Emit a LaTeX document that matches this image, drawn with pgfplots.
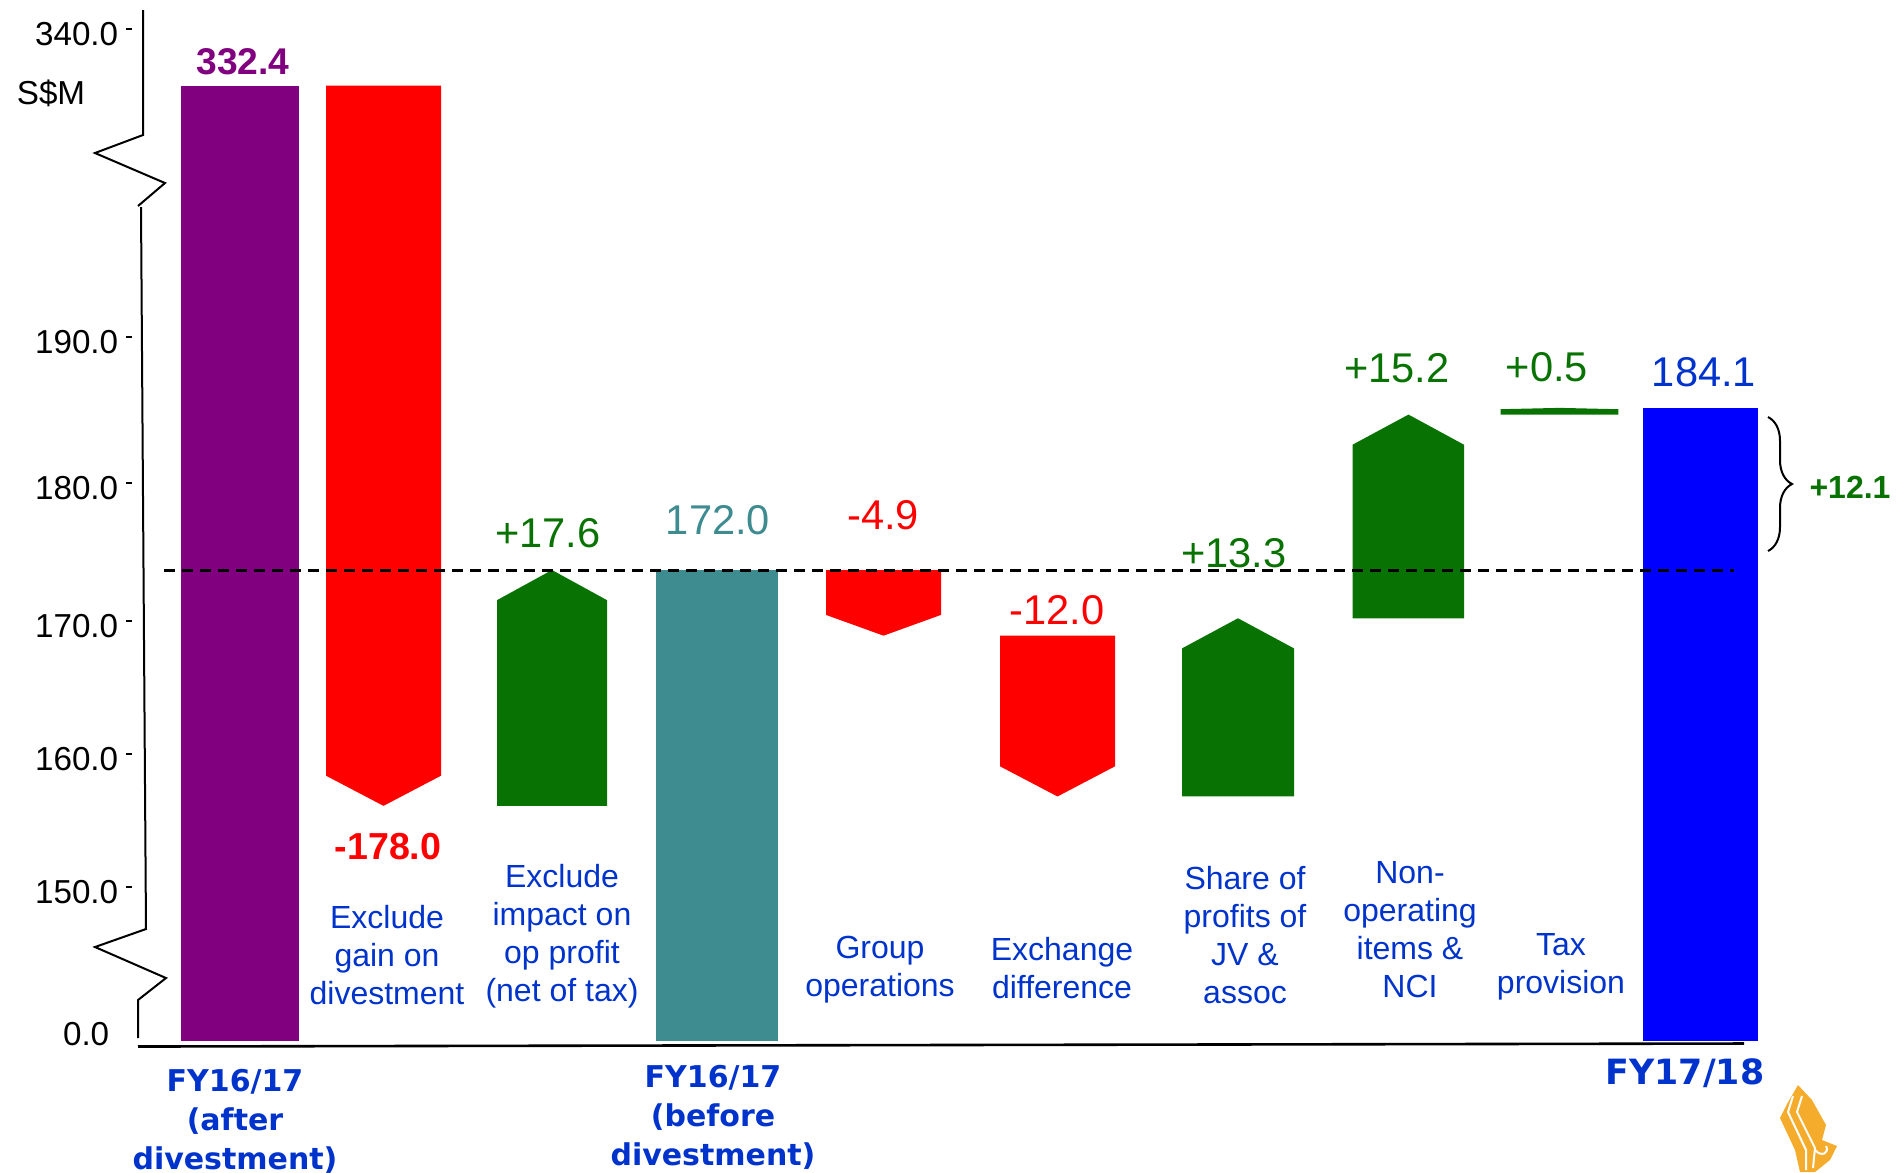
\documentclass[border=0pt]{standalone}
\usepackage{fontspec}
\setmainfont{Liberation Sans}
\newfontfamily\dejavu{DejaVu Sans}
\usepackage{pgfplots}
\pgfplotsset{compat=1.18}
\usetikzlibrary{decorations.pathreplacing}
\definecolor{purpleC}{RGB}{128,0,128}
\definecolor{redC}{RGB}{255,0,0}
\definecolor{greenC}{RGB}{8,115,2}
\definecolor{tealC}{RGB}{62,139,144}
\definecolor{blueBar}{RGB}{0,0,255}
\definecolor{labelBlue}{RGB}{0,51,204}
\definecolor{goldC}{RGB}{245,172,45}
\newcommand{\tl}[1]{#1\hspace{2pt}\rule[3.95pt]{1.5pt}{0.4pt}}
\newcommand{\val}{\fontsize{10.4}{12}\selectfont}
\newcommand{\cat}{\fontsize{8}{9.5}\selectfont}
\begin{document}
\begin{tikzpicture}
\begin{axis}[
  at={(0pt,0pt)}, anchor=north west,
  scale only axis, width=474.25pt, height=293pt,
  xmin=0, xmax=1897, ymin=-173.95, ymax=344.11,
  y coord trafo/.code={\pgfmathparse{(#1)<=145 ? 131+0.7531*(#1) : ((#1)<=190 ? 602+13.4*((#1)-172) : ((#1)<=330 ? 843.2+1.6129*((#1)-190) : 1069+7.3*((#1)-330)))}},
  axis line style={draw=none},
  tick style={draw=none},
  major tick length=0pt,
  xtick=\empty,
  ytick={0,148.27,158.19,168.12,178.42,189.31,340},
  yticklabels={{\raisebox{5.5pt}{0.0}\rule{5.75pt}{0pt}},{\tl{150.0}},{\tl{160.0}},{\tl{170.0}},{\tl{180.0}},{\tl{190.0}},{\tl{340.0}}},
  yticklabel style={anchor=east, inner sep=0pt, xshift=33.25pt, yshift=-1pt, font=\fontsize{8.3}{10}\selectfont},
  clip=false,
]
% FY16/17 after divestment
\addplot[fill=purpleC, draw=none] coordinates {(181,0) (299,0) (299,332.4) (181,332.4)};
% Exclude gain on divestment -178.0
\addplot[fill=redC, draw=none] coordinates {(326,332.4) (441,332.4) (441,156.65) (383.5,154.4) (326,156.65)};
% Exclude impact on op profit +17.6
\addplot[fill=greenC, draw=none] coordinates {(497,154.4) (607,154.4) (607,169.75) (552,172) (497,169.75)};
% FY16/17 before divestment
\addplot[fill=tealC, draw=none] coordinates {(656,0) (778,0) (778,172) (656,172)};
% Group operations -4.9
\addplot[fill=redC, draw=none] coordinates {(826,172) (941,172) (941,168.65) (883.5,167.1) (826,168.65)};
% Exchange difference -12.0
\addplot[fill=redC, draw=none] coordinates {(1000,167.1) (1115,167.1) (1115,157.35) (1057.5,155.1) (1000,157.35)};
% Share of profits of JV & assoc +13.3
\addplot[fill=greenC, draw=none] coordinates {(1182,155.1) (1294,155.1) (1294,166.15) (1238,168.4) (1182,166.15)};
% Non-operating items & NCI +15.2
\addplot[fill=greenC, draw=none] coordinates {(1352.5,168.4) (1464,168.4) (1464,181.35) (1408.5,183.6) (1352.5,181.35)};
% Tax provision +0.5
\addplot[fill=greenC, draw=none] coordinates {(1500.7,183.6) (1618.4,183.6) (1618.4,184.0) (1559.5,184.1) (1500.7,184.0)};
% FY17/18
\addplot[fill=blueBar, draw=none] coordinates {(1643,0) (1758,0) (1758,184.1) (1643,184.1)};
% reference line at 172.0
\addplot[black, line width=0.75pt, dash pattern=on 2.8pt off 1.7pt] coordinates {(164,172) (1734,172)};
\end{axis}
\begin{scope}[x=0.25pt, y=-0.25pt]
% broken y axis and x axis
\draw[line width=0.5pt] (143,10) -- (143,135) -- (95,153) -- (165,183) -- (138,206);
\draw[line width=0.5pt] (141,207) -- (146,929) -- (95,947) -- (166,978) -- (138,1000) -- (138,1038);
\draw[line width=0.65pt] (138,1046.5) -- (1744,1043.5);
% brace
\draw[line width=0.5pt, decorate, decoration={brace, amplitude=6pt}] (1768,417) -- (1768,551);
% value labels
\node[text=purpleC, font=\fontsize{9.3}{11}\selectfont\bfseries] at (243,62) {332.4};
\node[text=redC, font=\fontsize{9.4}{11}\selectfont\bfseries] at (388,847) {-178.0};
\node[text=greenC, font=\val] at (548,533) {+17.6};
\node[text=tealC, font=\val] at (718,520) {172.0};
\node[text=redC, font=\val] at (883,515) {-4.9};
\node[text=redC, font=\val] at (1057,610) {-12.0};
\node[text=greenC, font=\val] at (1234,553) {+13.3};
\node[text=greenC, font=\val] at (1397,368) {+15.2};
\node[text=greenC, font=\val] at (1547,367) {+0.5};
\node[text=labelBlue, font=\val] at (1704,372) {184.1};
\node[text=greenC, font=\fontsize{8}{9.5}\selectfont\bfseries] at (1850,487) {+12.1};
\node[font=\fontsize{8.3}{10}\selectfont] at (51,93) {S\$M};
% category labels
\node[align=center, text=labelBlue, font=\cat] at (387,955) {Exclude\\gain on\\divestment};
\node[align=center, text=labelBlue, font=\cat] at (562,936) {Exclude\\impact on\\op profit\\(net of tax)};
\node[align=center, text=labelBlue, font=\cat] at (880,970) {Group\\operations};
\node[align=center, text=labelBlue, font=\cat] at (1062,968) {Exchange\\difference};
\node[align=center, text=labelBlue, font=\cat] at (1245,935) {Share of\\profits of\\JV \&\\assoc};
\node[align=center, text=labelBlue, font=\cat] at (1410,930) {Non-\\operating\\items \&\\NCI};
\node[align=center, text=labelBlue, font=\cat] at (1561,967) {Tax\\provision};
\node[align=center, text=labelBlue, font=\dejavu\bfseries\fontsize{7.5}{9.75}\selectfont] at (235,1121) {FY16/17\\(after\\divestment)};
\node[align=center, text=labelBlue, font=\dejavu\bfseries\fontsize{7.5}{9.75}\selectfont] at (713,1117) {FY16/17\\(before\\divestment)};
\node[text=labelBlue, font=\dejavu\bfseries\fontsize{8.7}{10}\selectfont] at (1685,1073) {FY17/18};
% logo (approximate)
\fill[goldC] (1798,1085) -- (1812,1100) -- (1826,1125) -- (1822,1140) -- (1837,1146) -- (1830,1160) -- (1815,1172) -- (1800,1172) -- (1795,1150) -- (1780,1118) -- (1787,1104) -- cycle;
\draw[white, line width=0.5pt] (1793,1096) -- (1788,1112) -- (1806,1150) -- (1806,1170);
\draw[white, line width=0.5pt] (1802,1096) -- (1797,1112) -- (1815,1148) -- (1813,1168);
\draw[white, line width=0.5pt] (1815,1150) .. controls (1822,1158) and (1830,1152) .. (1826,1146);
\end{scope}
\pgfresetboundingbox
\path[use as bounding box] (0pt,0pt) rectangle (474.25pt,-293pt);
\end{tikzpicture}
\end{document}
